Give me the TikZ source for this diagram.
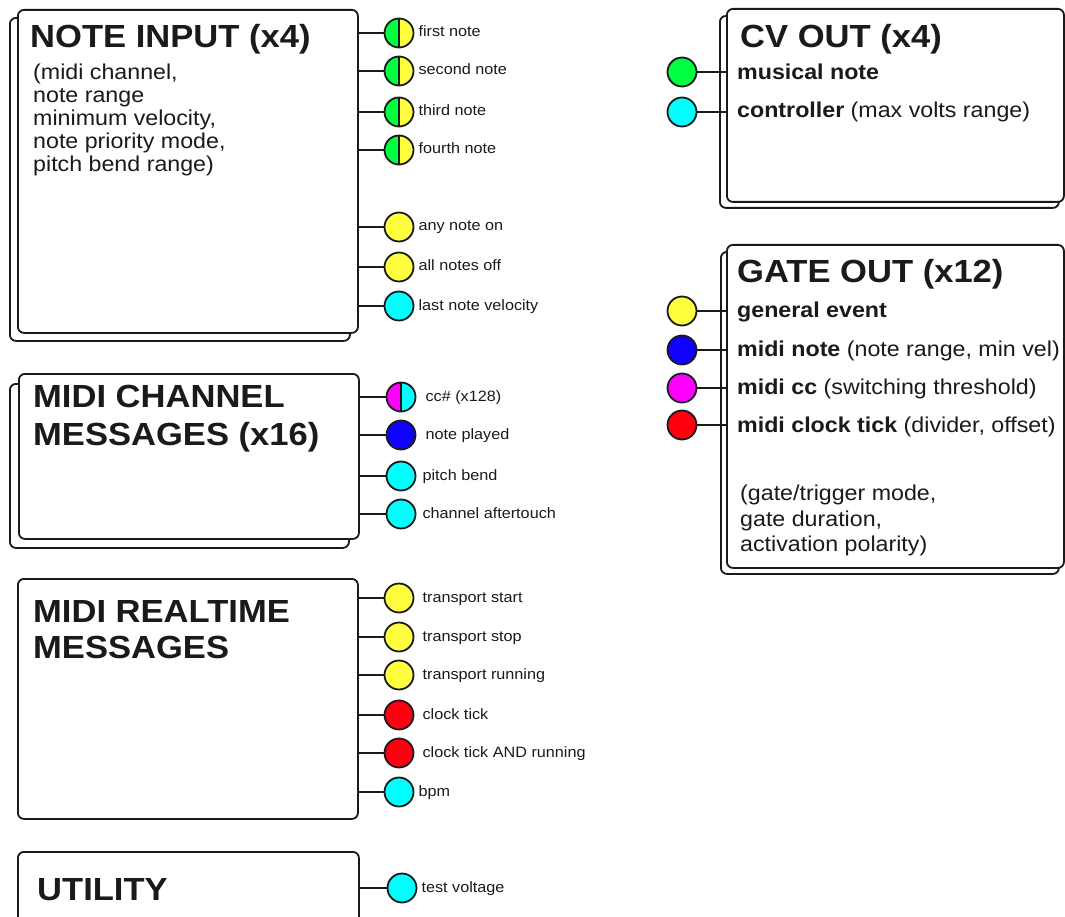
\documentclass[tikz,border=0pt]{standalone}
\usepackage{fontspec}
\setmainfont{Liberation Sans}[FakeStretch=1.08]
\definecolor{pgreen}{RGB}{0,255,64}
\definecolor{pyellow}{RGB}{255,255,64}
\definecolor{pcyan}{RGB}{0,255,255}
\definecolor{pblue}{RGB}{16,0,255}
\definecolor{pmagenta}{RGB}{255,0,255}
\definecolor{pred}{RGB}{255,0,16}
\definecolor{ink}{RGB}{26,26,26}
\begin{document}
\begin{tikzpicture}[x=1pt,y=-1pt,
  box/.style={draw=ink, line width=1.8pt, rounded corners=6pt, fill=white, anchor=north west, inner sep=0pt},
  port/.style={circle, draw=ink, line width=1.8pt, minimum size=29pt, inner sep=0pt},
  split/.style 2 args={port, path picture={
     \fill[#1] (path picture bounding box.south west) rectangle (path picture bounding box.north);
     \fill[#2] (path picture bounding box.south) rectangle (path picture bounding box.north east);
     \draw[ink, line width=1.8pt] (path picture bounding box.south) -- (path picture bounding box.north);}},
  wire/.style={draw=ink, line width=1.8pt},
  lbl/.style={anchor=west, inner sep=0pt, font=\fontsize{15}{18}\selectfont, text=ink, text height=11pt, text depth=3pt},
  title/.style={anchor=base west, inner sep=0pt, font=\fontsize{32}{36}\selectfont\bfseries, text=ink},
  body/.style={anchor=base west, inner sep=0pt, font=\fontsize{21.5}{23}\selectfont, text=ink},
]
\useasboundingbox (0,0) rectangle (1065,917);

% ---------- boxes ----------
\node[box, minimum width=340pt, minimum height=323pt] (nib) at (9,17) {};
\node[box, minimum width=340pt, minimum height=323pt] (ni) at (17,9) {};
\node[box, minimum width=339pt, minimum height=164pt] (mcb) at (9,383) {};
\node[box, minimum width=340pt, minimum height=165pt] (mc) at (18,373) {};
\node[box, minimum width=340pt, minimum height=240pt] (rt) at (17,578) {};
\node[box, minimum width=341pt, minimum height=72pt] (ut) at (17,851) {};
\node[box, minimum width=339pt, minimum height=192pt] (cvb) at (719,15) {};
\node[box, minimum width=337pt, minimum height=193pt] (cv) at (726,8) {};
\node[box, minimum width=338pt, minimum height=322pt] (gob) at (720,251) {};
\node[box, minimum width=337pt, minimum height=323pt] (go) at (726,244) {};

% ---------- box texts ----------
\node[title] (tni) at (30,48) {NOTE INPUT (x4)};
\node[body] (b1) at (33,80) {(midi channel,};
\node[body] (b2) at (33,103) {note range};
\node[body] (b3) at (33,126) {minimum velocity,};
\node[body] (b4) at (33,149) {note priority mode,};
\node[body] (b5) at (33,172) {pitch bend range)};

\node[title] (tmc1) at (33,407) {MIDI CHANNEL};
\node[title] (tmc2) at (33,445) {MESSAGES (x16)};
\node[title] (trt1) at (33,622) {MIDI REALTIME};
\node[title] (trt2) at (33,658) {MESSAGES};
\node[title] (tut) at (37,900) {UTILITY};

\node[title] (tcv) at (740,48) {CV OUT (x4)};
\node[body] (cv1) at (737,80) {\textbf{musical note}};
\node[body] (cv2) at (737,118) {\textbf{controller} (max volts range)};

\node[title] (tgo) at (737,283) {GATE OUT (x12)};
\node[body] (g1) at (737,317) {\textbf{general event}};
\node[body] (g2) at (737,356) {\textbf{midi note} (note range, min vel)};
\node[body] (g3) at (737,394) {\textbf{midi cc} (switching threshold)};
\node[body] (g4) at (737,432) {\textbf{midi clock tick} (divider, offset)};
\node[body] (g5) at (740,500) {(gate/trigger mode,};
\node[body] (g6) at (740,526) {gate duration,};
\node[body] (g7) at (740,551) {activation polarity)};

% ---------- NOTE INPUT ports ----------
\node[split={pgreen}{pyellow}] (n1) at (399,33) {};
\node[split={pgreen}{pyellow}] (n2) at (399,71) {};
\node[split={pgreen}{pyellow}] (n3) at (399,112) {};
\node[split={pgreen}{pyellow}] (n4) at (399,150) {};
\node[port, fill=pyellow] (n5) at (399,227) {};
\node[port, fill=pyellow] (n6) at (399,267) {};
\node[port, fill=pcyan] (n7) at (399,306) {};
\foreach \p in {n1,n2,n3,n4,n5,n6,n7} \draw[wire] (ni.east |- \p) -- (\p.west);
\node[lbl] (ln1) at ([xshift=4pt]n1.east) {first note};
\node[lbl] (ln2) at ([xshift=4pt]n2.east) {second note};
\node[lbl] (ln3) at ([xshift=4pt]n3.east) {third note};
\node[lbl] (ln4) at ([xshift=4pt]n4.east) {fourth note};
\node[lbl] (ln5) at ([xshift=4pt]n5.east) {any note on};
\node[lbl] (ln6) at ([xshift=4pt]n6.east) {all notes off};
\node[lbl] (ln7) at ([xshift=4pt]n7.east) {last note velocity};

% ---------- MIDI CHANNEL ports ----------
\node[split={pmagenta}{pcyan}] (m1) at (401,397) {};
\node[port, fill=pblue] (m2) at (401,435) {};
\node[port, fill=pcyan] (m3) at (401,476) {};
\node[port, fill=pcyan] (m4) at (401,514) {};
\foreach \p in {m1,m2,m3,m4} \draw[wire] (mc.east |- \p) -- (\p.west);
\node[lbl] (lm1) at ([xshift=9pt]m1.east) {cc\# (x128)};
\node[lbl] (lm2) at ([xshift=9pt]m2.east) {note played};
\node[lbl] (lm3) at ([xshift=6pt]m3.east) {pitch bend};
\node[lbl] (lm4) at ([xshift=6pt]m4.east) {channel aftertouch};

% ---------- MIDI REALTIME ports ----------
\node[port, fill=pyellow] (r1) at (399,598) {};
\node[port, fill=pyellow] (r2) at (399,637) {};
\node[port, fill=pyellow] (r3) at (399,675) {};
\node[port, fill=pred] (r4) at (399,715) {};
\node[port, fill=pred] (r5) at (399,753) {};
\node[port, fill=pcyan] (r6) at (399,792) {};
\foreach \p in {r1,r2,r3,r4,r5,r6} \draw[wire] (rt.east |- \p) -- (\p.west);
\node[lbl] (lr1) at ([xshift=8pt]r1.east) {transport start};
\node[lbl] (lr2) at ([xshift=8pt]r2.east) {transport stop};
\node[lbl] (lr3) at ([xshift=8pt]r3.east) {transport running};
\node[lbl] (lr4) at ([xshift=8pt]r4.east) {clock tick};
\node[lbl] (lr5) at ([xshift=8pt]r5.east) {clock tick AND running};
\node[lbl] (lr6) at ([xshift=4pt]r6.east) {bpm};

% ---------- UTILITY port ----------
\node[port, fill=pcyan] (u1) at (402,888) {};
\draw[wire] (ut.east |- u1) -- (u1.west);
\node[lbl] (lu1) at ([xshift=4pt]u1.east) {test voltage};

% ---------- CV OUT ports ----------
\node[port, fill=pgreen] (c1) at (682,72) {};
\node[port, fill=pcyan] (c2) at (682,112) {};
\foreach \p in {c1,c2} \draw[wire] (\p.east) -- (cv.west |- \p);

% ---------- GATE OUT ports ----------
\node[port, fill=pyellow] (o1) at (682,311) {};
\node[port, fill=pblue] (o2) at (682,350) {};
\node[port, fill=pmagenta] (o3) at (682,388) {};
\node[port, fill=pred] (o4) at (682,425) {};
\foreach \p in {o1,o2,o3,o4} \draw[wire] (\p.east) -- (go.west |- \p);
\end{tikzpicture}
\end{document}
